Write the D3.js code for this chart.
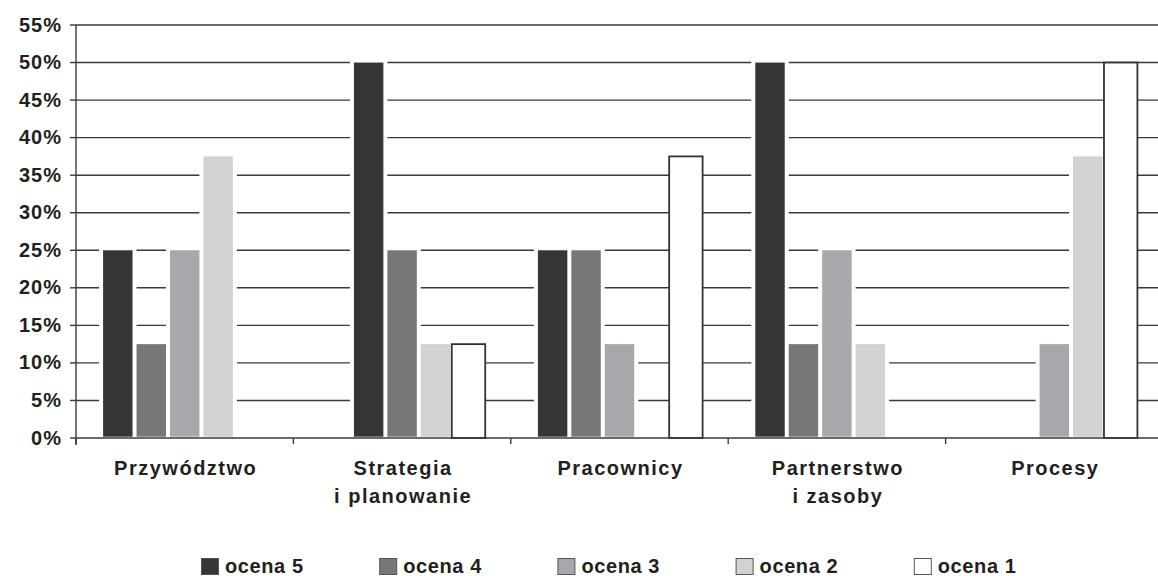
<!DOCTYPE html>
<html>
<head>
<meta charset="utf-8">
<script src="https://cdn.jsdelivr.net/npm/d3@7/dist/d3.min.js"></script>
<style>
  html, body { margin: 0; padding: 0; background: #fff; }
  svg { display: block; }
  text { font-family: "Liberation Sans", Arial, sans-serif; font-weight: bold; fill: #231f20; }
</style>
</head>
<body>
<svg id="chart" width="1158" height="576"></svg>
<script>
// Categories (multi-line labels split on "\n")
const categories = ["Przywództwo", "Strategia\ni planowanie", "Pracownicy", "Partnerstwo\ni zasoby", "Procesy"];
const seriesNames = ["ocena 5", "ocena 4", "ocena 3", "ocena 2", "ocena 1"];

// Percent of answers per category
const ocena5 = [25, 50, 25, 50, 0];
const ocena4 = [12.5, 25, 25, 12.5, 0];
const ocena3 = [25, 0, 12.5, 25, 12.5];
const ocena2 = [37.5, 12.5, 0, 12.5, 37.5];
const ocena1 = [0, 12.5, 37.5, 0, 50];

const yTicks = [0, 5, 10, 15, 20, 25, 30, 35, 40, 45, 50, 55];

const seriesValues = [ocena5, ocena4, ocena3, ocena2, ocena1];
const seriesFill = ["#363638", "#77777a", "#a7a8ab", "#d1d2d4", "#ffffff"];

// In the "Strategia" group the first two bars sit one slot further right
const slotShift = { "Strategia\ni planowanie": { "ocena 5": 1, "ocena 4": 1 } };

const svg = d3.select("#chart");
const W = 1158;
const plotLeft = 76, plotRight = 1163, plotTop = 25, plotBottom = 438;

const y = d3.scaleLinear().domain([0, 55]).range([plotBottom, plotTop]);
const x0 = d3.scaleBand().domain(categories).range([plotLeft, plotRight]).padding(0);
const x1 = d3.scaleBand().domain(seriesNames).range([0, x0.bandwidth()])
  .paddingInner(0).paddingOuter(0.75);

// horizontal gridlines
svg.append("g").selectAll("line")
  .data(yTicks.filter(t => t > 0))
  .join("line")
  .attr("x1", plotLeft).attr("x2", W)
  .attr("y1", d => y(d)).attr("y2", d => y(d))
  .attr("stroke", "#3a3a3a").attr("stroke-width", 1.4);

// flatten bar records
const bars = [];
categories.forEach((c, ci) => {
  seriesNames.forEach((s, si) => {
    const v = seriesValues[si][ci];
    if (v <= 0) return;
    const shift = (slotShift[c] && slotShift[c][s]) || 0;
    const slot = seriesNames[si + shift];
    bars.push({ cat: c, series: s, si, v, x: x0(c) + x1(slot) });
  });
});
const step = x1.step();
const filled = bars.filter(b => b.si < 4);
const outlined = bars.filter(b => b.si === 4);

// white halo around the filled bars
svg.append("g").selectAll("rect")
  .data(filled).join("rect")
  .attr("x", d => d.x - 2)
  .attr("y", d => y(d.v) - 2.5)
  .attr("width", step + 4)
  .attr("height", d => y(0) - y(d.v) + 2.5)
  .attr("fill", "#fff");

svg.append("g").selectAll("rect")
  .data(filled).join("rect")
  .attr("x", d => d.x + 2)
  .attr("y", d => y(d.v))
  .attr("width", step - 4)
  .attr("height", d => y(0) - 1.3 - y(d.v))
  .attr("fill", d => seriesFill[d.si]);

// white bars with dark outline
svg.append("g").selectAll("rect")
  .data(outlined).join("rect")
  .attr("x", d => d.x - 0.5)
  .attr("y", d => y(d.v))
  .attr("width", step)
  .attr("height", d => y(0) - y(d.v))
  .attr("fill", "#fff")
  .attr("stroke", "#333")
  .attr("stroke-width", 1.8);

// axes
const axis = svg.append("g").attr("stroke", "#3a3a3a").attr("stroke-width", 1.4);
axis.append("line").attr("x1", plotLeft).attr("x2", plotLeft).attr("y1", y(55)).attr("y2", plotBottom + 7);
axis.append("line").attr("x1", plotLeft).attr("x2", W).attr("y1", plotBottom).attr("y2", plotBottom);
axis.selectAll(".yt").data(yTicks).join("line")
  .attr("x1", plotLeft - 6).attr("x2", plotLeft)
  .attr("y1", d => y(d)).attr("y2", d => y(d));
axis.selectAll(".xt").data(categories).join("line")
  .attr("x1", d => x0(d)).attr("x2", d => x0(d))
  .attr("y1", plotBottom).attr("y2", plotBottom + 6);

// y tick labels
svg.append("g").selectAll("text")
  .data(yTicks).join("text")
  .attr("x", 62)
  .attr("y", d => y(d) + 6.5)
  .attr("text-anchor", "end")
  .attr("font-size", 20)
  .attr("letter-spacing", 1)
  .text(d => d + "%");

// category labels
const catLabels = svg.append("g").selectAll("text")
  .data(categories).join("text")
  .attr("text-anchor", "middle")
  .attr("font-size", 20)
  .attr("letter-spacing", 1.5);
catLabels.each(function (d) {
  const t = d3.select(this);
  d.split("\n").forEach((line, i) => {
    t.append("tspan")
      .attr("x", x0(d) + x0.bandwidth() / 2 + 1)
      .attr("y", 475 + i * 28)
      .text(line);
  });
});

// legend
const legend = svg.append("g").selectAll("g")
  .data(seriesNames).join("g")
  .attr("transform", (d, i) => `translate(${201 + i * 178.2},558)`);
legend.append("rect")
  .attr("x", 0.5).attr("y", 0.5)
  .attr("width", 17).attr("height", 16)
  .attr("fill", (d, i) => seriesFill[i])
  .attr("stroke", "#555").attr("stroke-width", 1);
legend.append("text")
  .attr("x", 24).attr("y", 15)
  .attr("font-size", 20)
  .attr("letter-spacing", 0.6)
  .text(d => d);
</script>
</body>
</html>
